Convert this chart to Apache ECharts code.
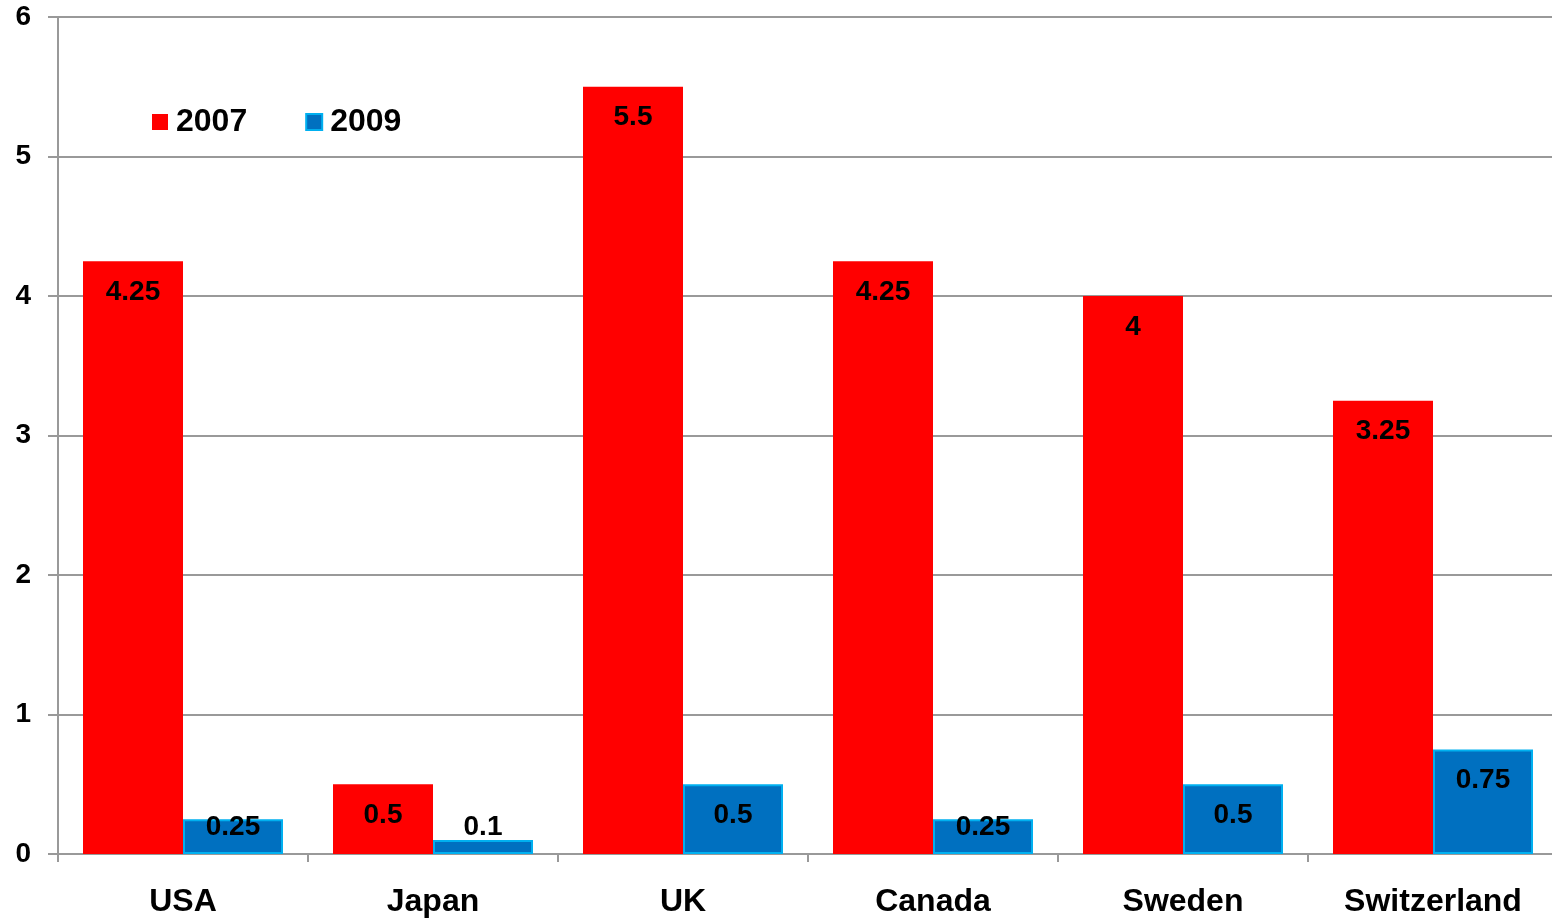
<!DOCTYPE html>
<html>
<head>
<meta charset="utf-8">
<title>Policy rates 2007 vs 2009</title>
<script src="https://cdn.jsdelivr.net/npm/echarts@6/dist/echarts.min.js"></script>
<style>
  html, body { margin: 0; padding: 0; background: #ffffff; }
  #chart { width: 1552px; height: 919px; }
</style>
</head>
<body>
<div id="chart"></div>
<script>
// Countries on the category axis
const countries = ['USA', 'Japan', 'UK', 'Canada', 'Sweden', 'Switzerland'];
// Rates (%) per year
const rates2007 = [4.25, 0.5, 5.5, 4.25, 4, 3.25];
const rates2009 = [0.25, 0.1, 0.5, 0.25, 0.5, 0.75];
// Value axis ticks
const yTicks = [0, 1, 2, 3, 4, 5, 6];

const FONT = '"Liberation Sans", Arial, sans-serif';
const GRID_GREY = '#999999';

// Short bars get their value label lifted off the axis instead of tucked under the top
function labelled(values) {
  return values.map(v => {
    const small = v < 0.4;
    return {
      value: v,
      label: small
        ? { position: 'insideBottom', distance: 13 }
        : { position: 'insideTop', distance: 17 }
    };
  });
}

const valueLabel = {
  show: true,
  color: '#000000',
  fontFamily: FONT,
  fontWeight: 'bold',
  fontSize: 28,
  formatter: p => String(p.value)
};

const chart = echarts.init(document.getElementById('chart'), null, { renderer: 'canvas' });

chart.setOption({
  animation: false,
  backgroundColor: '#ffffff',
  // the plot runs slightly past the right edge of the canvas
  grid: { left: 58, width: 1500, top: 17, bottom: 65, containLabel: false, outerBoundsMode: 'none' },
  legend: {
    left: 147,
    top: 101,
    itemWidth: 16,
    itemHeight: 16,
    itemGap: 58,
    icon: 'rect',
    textStyle: { fontFamily: FONT, fontWeight: 'bold', fontSize: 32, color: '#000000', padding: [0, 0, 0, 3] },
    data: ['2007', '2009']
  },
  xAxis: {
    type: 'category',
    data: countries,
    axisLine: { show: true, lineStyle: { color: GRID_GREY, width: 2 } },
    axisTick: { show: true, length: 8, alignWithLabel: false, lineStyle: { color: GRID_GREY, width: 2 } },
    axisLabel: { margin: 32, color: '#000000', fontFamily: FONT, fontWeight: 'bold', fontSize: 32, interval: 0 },
    splitLine: { show: false }
  },
  yAxis: {
    type: 'value',
    min: yTicks[0],
    max: yTicks[yTicks.length - 1],
    interval: 1,
    axisLine: { show: true, lineStyle: { color: GRID_GREY, width: 2 } },
    axisTick: { show: true, length: 10, inside: false, lineStyle: { color: GRID_GREY, width: 2 } },
    axisLabel: { margin: 27, color: '#000000', fontFamily: FONT, fontWeight: 'bold', fontSize: 28,
      formatter: v => yTicks.includes(v) ? String(v) : '' },
    splitLine: { show: true, lineStyle: { color: GRID_GREY, width: 2 } }
  },
  series: [
    {
      name: '2007',
      type: 'bar',
      barWidth: 100,
      barGap: '0%',
      itemStyle: { color: '#ff0000' },
      label: valueLabel,
      data: labelled(rates2007)
    },
    {
      name: '2009',
      type: 'bar',
      barWidth: 100,
      barGap: '0%',
      itemStyle: { color: '#0070c0', borderColor: '#00b0f0', borderWidth: 2 },
      label: valueLabel,
      data: labelled(rates2009)
    }
  ]
});
</script>
</body>
</html>
